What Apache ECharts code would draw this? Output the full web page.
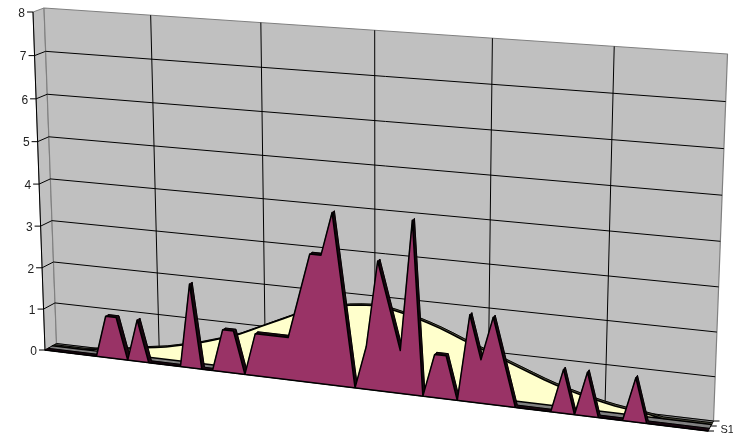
<!DOCTYPE html>
<html lang="en">
	<head>
		<meta charset="UTF-8" />
		<title>Chart</title>
		<style>
			body {
				margin: 0;
				padding: 0;
				background: #fff;
			}
			.chart {
				width: 733px;
				height: 433px;
			}
		</style>
	</head>
	<body>
		<div class="chart"></div>
		<script src="https://cdn.jsdelivr.net/npm/echarts@6/dist/echarts.min.js"></script>
		<script>
			const categories = [];
			for (let i = 0; i < 60; i++) categories.push(String(i + 1));
			const yTicks = [0, 1, 2, 3, 4, 5, 6, 7, 8];
			const xTicks = [0, 10, 20, 30, 40, 50, 59];
			const seriesLabel = 'S1';
			const bellValues = [
				0, 0, 0, 0, 0.03, 0.08, 0.1, 0.13, 0.17, 0.22,
				0.26, 0.3, 0.36, 0.42, 0.48, 0.56, 0.64, 0.72, 0.82, 0.94,
				1.06, 1.18, 1.3, 1.42, 1.52, 1.6, 1.68, 1.74, 1.79, 1.82,
				1.84, 1.83, 1.78, 1.72, 1.65, 1.57, 1.48, 1.38, 1.27, 1.17,
				1.07, 0.97, 0.87, 0.77, 0.67, 0.57, 0.48, 0.4, 0.33, 0.27,
				0.21, 0.16, 0.12, 0.09, 0.05, 0, 0, 0, 0, 0
			];
			const countValues = [
				0, 0, 0, 0, 0, 0, 1, 1, 0, 1,
				0, 0, 0, 0, 2, 0, 0, 1, 1, 0,
				1, 1, 1, 1, 2, 3, 3, 4, 2, 0,
				1, 3, 2, 1, 4, 0, 1, 1, 0, 2,
				1, 2, 1, 0, 0, 0, 0, 1, 0, 1,
				0, 0, 0, 1, 0, 0, 0, 0, 0, 0
			];

			// corners of the box: bottom-left, bottom-right, top-right, top-left
			const backQuad = [[56.5, 343.5], [713.5, 421], [727.5, 54], [44, 8]];
			const frontQuad = [[45, 350], [708, 431], [722, 61], [33, 12]];

			function makeHomography(q) {
				const [x0, y0] = q[0], [x1, y1] = q[1], [x2, y2] = q[2], [x3, y3] = q[3];
				const dx1 = x1 - x2, dx2 = x3 - x2, sx = x0 - x1 + x2 - x3;
				const dy1 = y1 - y2, dy2 = y3 - y2, sy = y0 - y1 + y2 - y3;
				const den = dx1 * dy2 - dx2 * dy1;
				const g = (sx * dy2 - dx2 * sy) / den;
				const h = (dx1 * sy - sx * dy1) / den;
				const a = x1 - x0 + g * x1, b = x3 - x0 + h * x3;
				const d = y1 - y0 + g * y1, e = y3 - y0 + h * y3;
				return (u, v) => {
					const w = g * u + h * v + 1;
					return [(a * u + b * v + x0) / w, (d * u + e * v + y0) / w];
				};
			}
			const planes = {};
			function plane(depth) {
				if (!planes[depth]) {
					planes[depth] = makeHomography(backQuad.map((p, i) => [
						p[0] + (frontQuad[i][0] - p[0]) * depth,
						p[1] + (frontQuad[i][1] - p[1]) * depth
					]));
				}
				return planes[depth];
			}
			// value -> grid pixel (library scale) -> box pixel at a given depth
			function project(api, params, x, y, depth) {
				const c = api.coord([x, y]);
				const r = params.coordSys;
				return plane(depth)((c[0] - r.x) / r.width, 1 - (c[1] - r.y) / r.height);
			}
			function line(p, q, color, width) {
				return {
					type: 'line',
					shape: { x1: p[0], y1: p[1], x2: q[0], y2: q[1] },
					style: { stroke: color, lineWidth: width }
				};
			}
			function poly(points, fill, stroke, width) {
				return {
					type: 'polygon',
					shape: { points: points },
					style: { fill: fill, stroke: stroke, lineWidth: width || 0, lineJoin: 'round' }
				};
			}

			function renderWalls(params, api) {
				const lastX = xTicks[xTicks.length - 1];
				const P = (x, y, d) => project(api, params, x, y, d);
				const top = yTicks[yTicks.length - 1];
				const kids = [
					poly([P(0, 0, 1), P(0, 0, 0), P(0, top, 0), P(0, top, 1)], '#c0c0c0', '#808080', 1),
					poly([P(0, 0, 0), P(lastX, 0, 0), P(lastX, top, 0), P(0, top, 0)], '#c0c0c0', '#808080', 1.2),
					poly([P(0, 0, 0), P(lastX, 0, 0), P(lastX, 0, 1), P(0, 0, 1)], '#808080', '#000', 1)
				];
				yTicks.slice(1, -1).forEach(t => {
					kids.push(line(P(0, t, 0), P(lastX, t, 0), '#000', 1));
					kids.push(line(P(0, t, 1), P(0, t, 0), '#000', 1));
				});
				xTicks.slice(1, -1).forEach(t => {
					kids.push(line(P(t, 0, 0), P(t, top, 0), '#000', 1));
				});
				return { type: 'group', children: kids };
			}

			function slabRenderer(values, backDepth, frontDepth, faceColor, bandColor) {
				return function (params, api) {
					if (params.dataIndex !== 0) return null;
					const kids = [];
					const front = values.map((v, i) => project(api, params, i, v, frontDepth));
					const back = values.map((v, i) => project(api, params, i, v, backDepth));
					for (let i = 0; i < values.length - 1; i++) {
						kids.push(poly([back[i], back[i + 1], front[i + 1], front[i]], bandColor, bandColor, 0.5));
					}
					kids.push({
						type: 'polyline',
						shape: { points: back },
						style: { fill: null, stroke: '#000', lineWidth: 1, lineJoin: 'round' }
					});
					const base = [project(api, params, values.length - 1, 0, frontDepth), project(api, params, 0, 0, frontDepth)];
					kids.push(poly(front.concat(base), faceColor, '#000', 1.5));
					return { type: 'group', children: kids };
				};
			}

			function renderAxes(params, api) {
				const kids = [];
				const lastX = xTicks[xTicks.length - 1];
				const top = yTicks[yTicks.length - 1];
				kids.push(line(project(api, params, 0, 0, 1), project(api, params, 0, top, 1), '#000', 1));
				yTicks.forEach(t => {
					const p = project(api, params, 0, t, 1);
					kids.push(line([p[0] - 6, p[1]], p, '#000', 1));
					kids.push({
						type: 'text',
						style: {
							x: p[0] - 8,
							y: p[1] + 1.5,
							text: String(t),
							align: 'right',
							verticalAlign: 'middle',
							fill: '#222',
							font: '12px "Liberation Sans", Arial, sans-serif'
						}
					});
				});
				[0, 0.5, 1].forEach(d => {
					const p = project(api, params, lastX, 0, d);
					kids.push(line(p, [p[0] + 6, p[1]], '#000', 1));
				});
				const lab = project(api, params, lastX, 0, 0.75);
				kids.push({
					type: 'text',
					style: {
						x: lab[0] + 11,
						y: lab[1] + 1,
						text: seriesLabel,
						align: 'left',
						verticalAlign: 'middle',
						fill: '#222',
						font: '11px "Liberation Sans", Arial, sans-serif'
					}
				});
				return { type: 'group', children: kids };
			}

			const container = document.querySelector('.chart');
			const instance = echarts.init(container);
			const option = {
				animation: false,
				grid: { left: 0, right: 0, top: 0, bottom: 0 },
				xAxis: { type: 'category', data: categories, boundaryGap: false, show: false },
				yAxis: { type: 'value', min: 0, max: 8, interval: 1, show: false },
				series: [
					{ type: 'custom', clip: false, z: 1, renderItem: renderWalls, data: [[0, 0]] },
					{
						type: 'custom',
						clip: false,
						z: 2,
						renderItem: slabRenderer(bellValues, 0.18, 0.35, '#ffffcc', '#55553f'),
						data: bellValues.map((v, i) => [i, v])
					},
					{
						type: 'custom',
						clip: false,
						z: 3,
						renderItem: slabRenderer(countValues, 0.74, 1, '#993366', '#1a0610'),
						data: countValues.map((v, i) => [i, v])
					},
					{ type: 'custom', clip: false, z: 4, renderItem: renderAxes, data: [[0, 0]] }
				]
			};
			instance.setOption(option);
		</script>
	</body>
</html>
